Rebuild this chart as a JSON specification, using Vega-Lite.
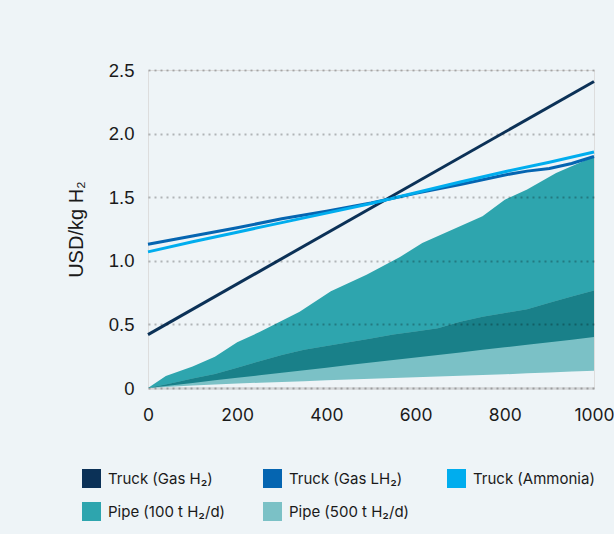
{
  "$schema": "https://vega.github.io/schema/vega-lite/v6.json",
  "width": 446,
  "height": 318,
  "autosize": {"type": "none"},
  "padding": {"left": 148, "top": 70, "right": 20, "bottom": 146},
  "background": "#eef4f7",
  "datasets": {
    "pipe100": [
      {"x": 0, "lo": 0, "hi": 0},
      {"x": 40, "lo": 0.016, "hi": 0.095},
      {"x": 100, "lo": 0.04, "hi": 0.17},
      {"x": 150, "lo": 0.06, "hi": 0.245},
      {"x": 200, "lo": 0.08, "hi": 0.36},
      {"x": 250, "lo": 0.10, "hi": 0.44},
      {"x": 340, "lo": 0.136, "hi": 0.60},
      {"x": 410, "lo": 0.164, "hi": 0.76},
      {"x": 490, "lo": 0.196, "hi": 0.89},
      {"x": 565, "lo": 0.226, "hi": 1.03},
      {"x": 615, "lo": 0.246, "hi": 1.14},
      {"x": 750, "lo": 0.30, "hi": 1.35},
      {"x": 800, "lo": 0.32, "hi": 1.48},
      {"x": 850, "lo": 0.34, "hi": 1.56},
      {"x": 915, "lo": 0.366, "hi": 1.69},
      {"x": 1000, "lo": 0.40, "hi": 1.82}
    ],
    "pipe500": [
      {"x": 0, "lo": 0, "hi": 0, "lo100": 0},
      {"x": 50, "lo": 0.01, "hi": 0.035, "lo100": 0.02},
      {"x": 100, "lo": 0.02, "hi": 0.075, "lo100": 0.04},
      {"x": 150, "lo": 0.028, "hi": 0.11, "lo100": 0.06},
      {"x": 200, "lo": 0.035, "hi": 0.16, "lo100": 0.08},
      {"x": 250, "lo": 0.042, "hi": 0.21, "lo100": 0.10},
      {"x": 300, "lo": 0.048, "hi": 0.26, "lo100": 0.12},
      {"x": 350, "lo": 0.054, "hi": 0.30, "lo100": 0.14},
      {"x": 400, "lo": 0.06, "hi": 0.33, "lo100": 0.16},
      {"x": 450, "lo": 0.066, "hi": 0.36, "lo100": 0.18},
      {"x": 500, "lo": 0.072, "hi": 0.39, "lo100": 0.20},
      {"x": 550, "lo": 0.078, "hi": 0.42, "lo100": 0.22},
      {"x": 600, "lo": 0.084, "hi": 0.445, "lo100": 0.24},
      {"x": 650, "lo": 0.09, "hi": 0.47, "lo100": 0.26},
      {"x": 700, "lo": 0.096, "hi": 0.52, "lo100": 0.28},
      {"x": 750, "lo": 0.102, "hi": 0.56, "lo100": 0.30},
      {"x": 800, "lo": 0.108, "hi": 0.59, "lo100": 0.32},
      {"x": 850, "lo": 0.115, "hi": 0.62, "lo100": 0.34},
      {"x": 900, "lo": 0.122, "hi": 0.67, "lo100": 0.36},
      {"x": 950, "lo": 0.129, "hi": 0.72, "lo100": 0.38},
      {"x": 1000, "lo": 0.136, "hi": 0.766, "lo100": 0.40}
    ],
    "trucks": [
      {"x": 0, "series": "Truck (Gas H₂)", "y": 0.42},
      {"x": 1000, "series": "Truck (Gas H₂)", "y": 2.41},
      {"x": 0, "series": "Truck (Gas LH₂)", "y": 1.13},
      {"x": 100, "series": "Truck (Gas LH₂)", "y": 1.195},
      {"x": 200, "series": "Truck (Gas LH₂)", "y": 1.26},
      {"x": 300, "series": "Truck (Gas LH₂)", "y": 1.33},
      {"x": 400, "series": "Truck (Gas LH₂)", "y": 1.39},
      {"x": 500, "series": "Truck (Gas LH₂)", "y": 1.455},
      {"x": 600, "series": "Truck (Gas LH₂)", "y": 1.53},
      {"x": 700, "series": "Truck (Gas LH₂)", "y": 1.60},
      {"x": 800, "series": "Truck (Gas LH₂)", "y": 1.675},
      {"x": 850, "series": "Truck (Gas LH₂)", "y": 1.705},
      {"x": 900, "series": "Truck (Gas LH₂)", "y": 1.725},
      {"x": 950, "series": "Truck (Gas LH₂)", "y": 1.765},
      {"x": 1000, "series": "Truck (Gas LH₂)", "y": 1.82},
      {"x": 0, "series": "Truck (Ammonia)", "y": 1.07},
      {"x": 100, "series": "Truck (Ammonia)", "y": 1.15},
      {"x": 200, "series": "Truck (Ammonia)", "y": 1.225},
      {"x": 300, "series": "Truck (Ammonia)", "y": 1.30},
      {"x": 400, "series": "Truck (Ammonia)", "y": 1.375},
      {"x": 500, "series": "Truck (Ammonia)", "y": 1.45},
      {"x": 600, "series": "Truck (Ammonia)", "y": 1.535},
      {"x": 700, "series": "Truck (Ammonia)", "y": 1.62},
      {"x": 800, "series": "Truck (Ammonia)", "y": 1.70},
      {"x": 900, "series": "Truck (Ammonia)", "y": 1.775},
      {"x": 1000, "series": "Truck (Ammonia)", "y": 1.855}
    ],
    "legend": [
      {"name": "Truck (Gas H₂)"},
      {"name": "Truck (Gas LH₂)"},
      {"name": "Truck (Ammonia)"},
      {"name": "Pipe (100 t H₂/d)"},
      {"name": "Pipe (500 t H₂/d)"}
    ]
  },
  "encoding": {
    "x": {
      "field": "x", "type": "quantitative",
      "scale": {"domain": [0, 1000], "nice": false},
      "axis": {
        "values": [0, 200, 400, 600, 800, 1000],
        "format": "d",
        "grid": false, "ticks": false,
        "domainColor": "#d2d4d6", "domainWidth": 2.5,
        "labelFont": "Inter", "labelFontSize": 17.5, "labelColor": "#1a1a1a",
        "labelPadding": 18, "labelFlush": false, "labelOverlap": false,
        "title": null
      }
    }
  },
  "layer": [
    {
      "data": {"name": "pipe100"},
      "mark": {"type": "area", "color": "#2ea5ae"},
      "encoding": {
        "y": {
          "field": "hi", "type": "quantitative",
          "scale": {"domain": [0, 2.5], "nice": false},
          "axis": {
            "values": [0, 0.5, 1, 1.5, 2, 2.5],
            "labelExpr": "datum.value == 0 ? '0' : format(datum.value, '.1f')",
            "domain": false, "ticks": false,
            "grid": true, "gridColor": "#000000", "gridOpacity": 0.26,
            "gridDash": [2, 4], "gridWidth": 2,
            "labelFont": "Liberation Sans", "labelFontSize": 18.5, "labelColor": "#1a1a1a",
            "labelPadding": 14,
            "title": "USD/kg H₂",
            "titleFont": "Liberation Sans", "titleFontSize": 20, "titleFontWeight": "normal",
            "titleColor": "#1a1a1a", "titlePadding": 22,
            "zindex": 1
          }
        },
        "y2": {"field": "lo"}
      }
    },
    {
      "data": {"name": "pipe500"},
      "mark": {"type": "area", "color": "#7bc1c6"},
      "encoding": {
        "y": {"field": "hi", "type": "quantitative"},
        "y2": {"field": "lo"}
      }
    },
    {
      "data": {"name": "pipe500"},
      "mark": {"type": "area", "color": "#198089"},
      "encoding": {
        "y": {"field": "hi", "type": "quantitative"},
        "y2": {"field": "lo100"}
      }
    },
    {
      "data": {"name": "trucks"},
      "mark": {"type": "line", "strokeWidth": 3},
      "encoding": {
        "y": {"field": "y", "type": "quantitative"},
        "stroke": {
          "field": "series", "type": "nominal",
          "scale": {
            "domain": ["Truck (Gas H₂)", "Truck (Gas LH₂)", "Truck (Ammonia)"],
            "range": ["#0b3157", "#0565b1", "#00adee"]
          },
          "legend": null
        }
      }
    },
    {
      "data": {"name": "legend"},
      "mark": {"type": "square", "size": 0, "filled": true},
      "encoding": {
        "x": {"datum": 0},
        "y": {"datum": 0},
        "fill": {
          "field": "name", "type": "nominal",
          "scale": {
            "domain": ["Truck (Gas H₂)", "Truck (Gas LH₂)", "Truck (Ammonia)", "Pipe (100 t H₂/d)", "Pipe (500 t H₂/d)"],
            "range": ["#0b3157", "#0565b1", "#00adee", "#2ea5ae", "#7bc1c6"]
          },
          "legend": {
            "orient": "none", "legendX": -66, "legendY": 399,
            "direction": "horizontal", "columns": 3,
            "title": null,
            "symbolType": "square", "symbolSize": 361,
            "symbolStrokeWidth": 0, "symbolOpacity": 1,
            "labelFont": "Inter", "labelFontSize": 15, "labelColor": "#1a1a1a",
            "labelOffset": 7, "rowPadding": 14, "columnPadding": 37,
            "labelLimit": 300
          }
        }
      }
    }
  ]
}
